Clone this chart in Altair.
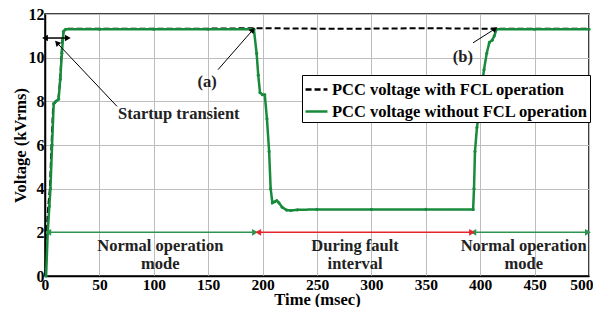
import altair as alt
import pandas as pd

# ---------------- data ----------------
series_names = ["PCC voltage with FCL operation", "PCC voltage without FCL operation"]

t_with = [0.5, 1.5, 3, 4.5, 6, 7.5, 10, 12.5, 14, 15, 16, 17, 19, 50, 100, 150, 195, 250, 300, 350, 400, 450, 500]
v_with = [0.0, 2.0, 3.2, 4.0, 6.0, 7.8, 8.0, 8.2, 9.0, 10.0, 10.8, 11.2, 11.33, 11.33, 11.33, 11.33, 11.35, 11.33, 11.33, 11.35, 11.33, 11.33, 11.33]

t_without = [1, 2.5, 4, 5, 6.5, 8, 10, 12.5, 14, 15.5, 17, 19, 50, 100, 150, 192,
             194.5, 196, 197.6, 200, 202, 204, 206, 207.4, 209, 211, 213, 215, 218, 222, 226, 232,
             250, 300, 350, 393.5, 394.3, 395.2, 397, 399, 401, 403.5, 406, 408.4, 411, 413, 415,
             450, 500]
v_without = [0.0, 2.0, 3.2, 4.0, 6.0, 7.9, 8.0, 8.1, 9.0, 10.2, 11.2, 11.3, 11.3, 11.3, 11.3, 11.3,
             10.2, 9.2, 8.4, 8.3, 8.3, 7.2, 5.7, 4.0, 3.35, 3.4, 3.45, 3.35, 3.15, 3.02, 3.0, 3.03,
             3.05, 3.05, 3.05, 3.05, 4.0, 5.7, 6.8, 7.5, 8.5, 9.45, 10.2, 10.7, 10.8, 11.0, 11.3,
             11.3, 11.3]

# annotation arrows (black, diagonal)
arr_t1 = [159, 393.4, 66.2]
arr_v1 = [9.45, 10.68, 7.77]
arr_t2 = [191, 413.6, 11]
arr_v2 = [11.27, 11.32, 10.68]
arr_angle = [41, 57, 317]

# horizontal double arrows
h_t1 = [0, 3, 196, 393.7]
h_t2 = [21, 193, 392.5, 499]
h_v = [10.9, 2, 2, 2]
h_col = ["black", "green", "red", "green"]

# texts
txt = ["(a)", "(b)", "Startup transient", "Normal operation", "mode",
       "During fault", "interval", "Normal operation", "mode"]
txt_t = [149, 384, 123, 106, 106, 285, 285, 440, 440]
txt_v = [8.9, 10.05, 7.4, 1.36, 0.55, 1.36, 0.55, 1.36, 0.55]

x_ticks = list(range(0, 501, 50))
y_ticks = list(range(0, 13, 2))

# ---------------- chart ----------------
GREEN = "#178a3c"
ARROW_GREEN = "#2e9550"
RED = "#e4262c"
FONT = "Liberation Serif"
FS = 16.5
arrow_colors = {"black": "black", "green": ARROW_GREEN, "red": RED}

xs = alt.Scale(domain=[0, 500], nice=False)
ys = alt.Scale(domain=[0, 12], nice=False)

xenc = alt.X("t:Q", scale=xs, axis=alt.Axis(values=x_ticks, title="Time (msec)", labelFlush=True,
                                          labelFlushOffset=4, labelFontSize=15.5,
                                          titleBaseline="alphabetic", titleY=28))
yenc = alt.Y("v:Q", scale=ys, axis=alt.Axis(values=y_ticks, title="Voltage (kVrms)"))

color_scale = alt.Scale(domain=series_names, range=["black", GREEN])
dash_scale = alt.Scale(domain=series_names, range=[[6, 3], [1, 0]])
legend = alt.Legend(title=None, orient="none", legendX=257, legendY=61,
                    fillColor="white", strokeColor="black", padding=2,
                    labelFont=FONT, labelFontWeight="bold", labelFontSize=FS,
                    labelColor="black", symbolType="stroke", symbolStrokeWidth=2.5,
                    symbolSize=480, labelLimit=400, rowPadding=1, labelOffset=3)

df_with = pd.DataFrame({"t": t_with, "v": v_with, "s": series_names[0]})
df_without = pd.DataFrame({"t": t_without, "v": v_without, "s": series_names[1]})

line_with = alt.Chart(df_with).mark_line(strokeWidth=2).encode(
    x=xenc, y=yenc,
    color=alt.Color("s:N", scale=color_scale, legend=legend),
    strokeDash=alt.StrokeDash("s:N", scale=dash_scale, legend=legend),
)
line_without = alt.Chart(df_without).mark_line(strokeWidth=2.5).encode(
    x="t:Q", y="v:Q",
    color=alt.Color("s:N", scale=color_scale, legend=legend),
    strokeDash=alt.StrokeDash("s:N", scale=dash_scale, legend=legend),
)
pts_without = alt.Chart(df_without).mark_point(filled=True, size=10, opacity=1, color=GREEN).encode(
    x="t:Q", y="v:Q")

df_arr = pd.DataFrame({"t": arr_t1, "v": arr_v1, "t2": arr_t2, "v2": arr_v2, "ang": arr_angle})
arr_lines = alt.Chart(df_arr).mark_rule(color="black", strokeWidth=1).encode(
    x="t:Q", y="v:Q", x2="t2:Q", y2="v2:Q")
arr_heads = alt.Chart(df_arr).mark_point(shape="triangle-up", filled=True, size=40,
                                         color="black", opacity=1).encode(
    x="t2:Q", y="v2:Q", angle=alt.Angle("ang:Q", scale=None))

df_h = pd.DataFrame({"t": h_t1, "t2": h_t2, "v": h_v, "c": h_col})
h_layers = []
for key, col in arrow_colors.items():
    sub = df_h[df_h["c"] == key]
    h_layers.append(alt.Chart(sub).mark_rule(strokeWidth=1.5, color=col).encode(
        x="t:Q", x2="t2:Q", y="v:Q"))
    h_layers.append(alt.Chart(sub).mark_point(shape="triangle-left", filled=True, size=45,
                                              opacity=1, color=col).encode(x="t:Q", y="v:Q"))
    h_layers.append(alt.Chart(sub).mark_point(shape="triangle-right", filled=True, size=45,
                                              opacity=1, color=col).encode(x="t2:Q", y="v:Q"))

df_txt = pd.DataFrame({"t": txt_t, "v": txt_v, "label": txt})
texts = alt.Chart(df_txt).mark_text(font=FONT, fontWeight="bold", fontSize=FS,
                                    color="#222222", align="center", baseline="middle").encode(
    x="t:Q", y="v:Q", text="label:N")

chart = alt.layer(
    line_with, line_without, pts_without,
    arr_lines, arr_heads, *h_layers, texts
).properties(
    width=544, height=262,
    autosize=alt.AutoSizeParams(type="none"),
    padding={"left": 37, "top": 6, "right": 4, "bottom": 31},
).configure_axis(
    labelFont=FONT, labelFontWeight="bold", labelFontSize=16, labelColor="black",
    titleFont=FONT, titleFontWeight="bold", titleFontSize=FS, titleColor="black",
    gridColor="#bdbdbd", gridWidth=1, domainColor="black", domainWidth=1.5,
    tickSize=0, labelPadding=1, titlePadding=0,
).configure_view(stroke="black", strokeWidth=1.5)

chart.save("out.html", embed_options={"renderer": "svg", "actions": False})
